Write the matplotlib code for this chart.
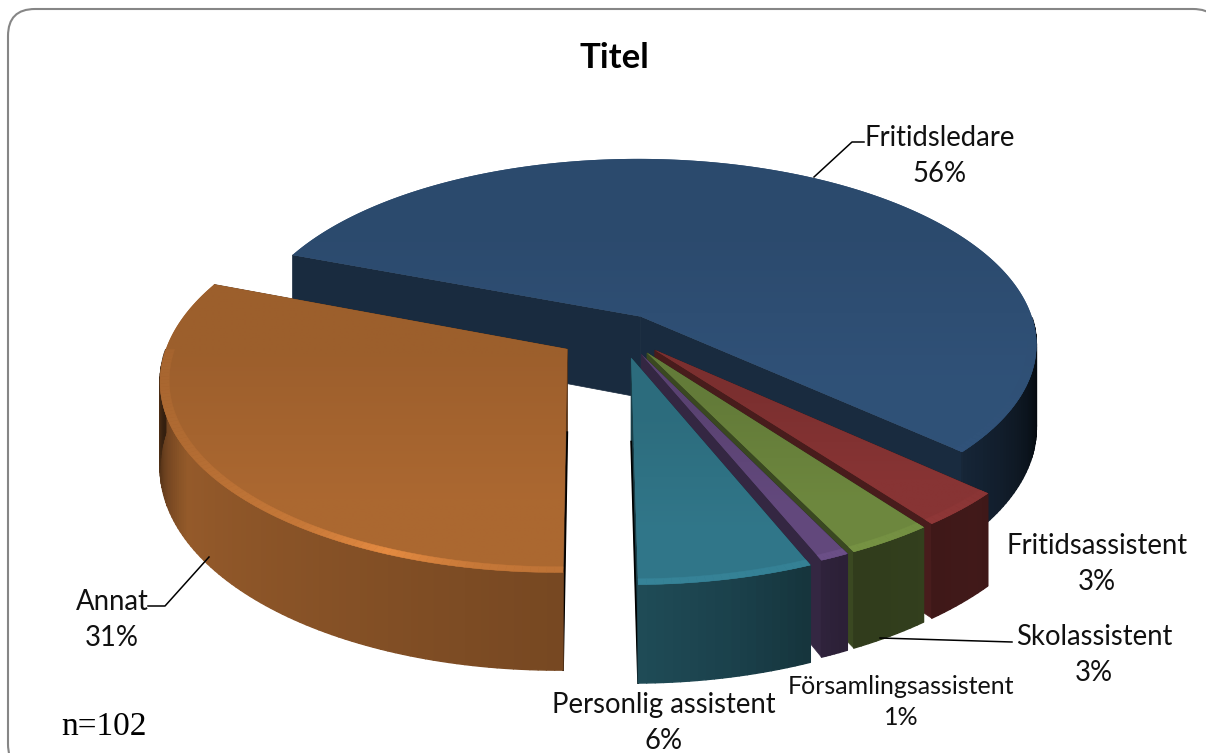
import numpy as np
import matplotlib
matplotlib.use('Agg')
import matplotlib.pyplot as plt
from matplotlib.collections import PolyCollection
from matplotlib.patches import FancyBboxPatch, Polygon

categories = ['Fritidsledare', 'Fritidsassistent', 'Skolassistent',
              'Församlingsassistent', 'Personlig assistent', 'Annat']
values = [56, 3, 3, 1, 6, 31]
title = 'Titel'
note = 'n=102'

explode = [0.10, 0.13, 0.13, 0.13, 0.14, 0.16]
colors = [(46, 78, 115), (130, 50, 50), (105, 130, 60),
          (95, 70, 120), (47, 114, 132), (165, 100, 47)]
side_gain = [1, 1, 1, 1, 0.92, 1]
label_xy = [(940, 156), (1097, 564), (1094, 655), (901, 702), (664, 723), (112, 620)]
label_size = [19.8, 19.8, 19.8, 18, 19.8, 19.8]

start = 159.0
cx, cy = 620, 332
A, B, k, depth = 396, 185, 0.147, 82
rim = 0.022

# side shading by angle
side_a = [-200, -180, -165, -150, -90, -78, -65, -45, -30, -8, 0, 200]
side_f = [0.1, 0.3, 0.6, 0.9, 0.72, 0.62, 0.46, 0.5, 0.35, 0.1, 0.05, 0.05]
rim_a = [-210, -180, -150, -125, -112, -100, -90, -60, -40, 0, 200]
rim_f = [1.0, 1.0, 1.08, 1.2, 1.38, 1.2, 1.15, 1.12, 1.05, 1.0, 1.0]


def project(u, v, z=0.0):
    s = 1 / (1 + k * v)
    return cx + A * u * s, cy - B * v * s + depth * z * s


def wrap(a):
    return (a + 180) % 360 - 180


def shade(col, f):
    return tuple(min(1, c * f / 255) for c in col)


fig = plt.figure(figsize=(12.06, 7.53), dpi=100)
ax = fig.add_axes([0, 0, 1, 1])
ax.set_xlim(0, 1206)
ax.set_ylim(753, 0)
ax.axis('off')

ax.add_patch(FancyBboxPatch((8, 9), 1212, 762, boxstyle='round,pad=0,rounding_size=27',
                            fc='white', ec='#868686', lw=1.5, zorder=0))

# slice boundaries go clockwise from the start angle
edges = start - np.cumsum([0] + values) * 3.6
z = 1
for i in range(len(values)):
    a0, a1 = edges[i], edges[i + 1]
    mid = np.radians((a0 + a1) / 2)
    eu, ev = explode[i] * np.cos(mid), explode[i] * np.sin(mid)
    t_deg = np.linspace(a0, a1, max(int(abs(a1 - a0)), 6) + 1)
    t = np.radians(t_deg)
    col = colors[i]

    def pt(r, a, zz=0.0):
        return project(r * np.cos(a) + eu, r * np.sin(a) + ev, zz)

    # cut faces
    for a in (t[0], t[-1]):
        quad = [pt(0, a), pt(1, a), pt(1, a, 1), pt(0, a, 1)]
        ax.add_patch(Polygon(quad, closed=True, fc=shade(col, 0.55), ec=shade(col, 0.55), lw=0.5, zorder=z))
        z += 1
    if i in (4, 5):
        # thin black edge at the front cut
        p, q = pt(0, t[-1 if i == 4 else 0], 1), pt(1, t[-1 if i == 4 else 0], 1)
        ax.plot([p[0], q[0]], [p[1], q[1]], color='black', lw=1.3, zorder=z)
        z += 1

    # outer side, only the part facing the viewer
    polys, cols = [], []
    for j in range(len(t) - 1):
        am = wrap((t_deg[j] + t_deg[j + 1]) / 2)
        if am > 0:
            continue
        polys.append([pt(1, t[j]), pt(1, t[j + 1]), pt(1, t[j + 1], 1), pt(1, t[j], 1)])
        cols.append(shade(col, np.interp(am, side_a, side_f) * side_gain[i]))
    ax.add_collection(PolyCollection(polys, facecolors=cols, edgecolors=cols, linewidths=1.0, zorder=z))
    z += 1

    # top face with a slight vertical gradient
    top = [pt(0, t[0])] + [pt(1, a) for a in t]
    top_poly = Polygon(top, closed=True, fc=shade(col, 1.0), ec='none', zorder=z)
    ax.add_patch(top_poly)
    z += 1
    xs = [p[0] for p in top]
    ys = [p[1] for p in top]
    grad = np.array([[shade(col, 0.95)], [shade(col, 1.04)]])
    im = ax.imshow(grad, extent=(min(xs), max(xs), max(ys), min(ys)), aspect='auto',
                   interpolation='bilinear', zorder=z)
    im.set_clip_path(top_poly)
    z += 1

    # bevel rim along the front
    polys, cols = [], []
    for j in range(len(t) - 1):
        am = wrap((t_deg[j] + t_deg[j + 1]) / 2)
        if am > 0:
            continue
        polys.append([pt(1 - rim, t[j]), pt(1 - rim, t[j + 1]), pt(1, t[j + 1]), pt(1, t[j])])
        cols.append(shade(col, np.interp(am, rim_a, rim_f)))
    if polys:
        ax.add_collection(PolyCollection(polys, facecolors=cols, edgecolors=cols, linewidths=0.3, zorder=z))
    z += 1

ax.set_xlim(0, 1206)
ax.set_ylim(753, 0)

# leader lines
lx = [[814, 852, 864], [880, 1012], [209, 165, 148]]
ly = [[177, 142, 142], [638, 642], [557, 606, 606]]
for xs, ys in zip(lx, ly):
    ax.plot(xs, ys, color='black', lw=1.1, zorder=z)

font = 'Lato'
ax.text(614, 58, title, ha='center', va='center', fontsize=25, fontweight='bold',
        family=font, color='black', zorder=z)
for name, val, (x, y), fs in zip(categories, values, label_xy, label_size):
    ax.text(x, y, f'{name}\n{val}%', ha='center', va='center', fontsize=fs, family=font,
            color='#111111', linespacing=1.43, zorder=z)
ax.text(61, 735, note, ha='left', va='baseline', fontsize=24, family='Liberation Serif',
        color='black', zorder=z)

fig.savefig('out.png', dpi=100)
